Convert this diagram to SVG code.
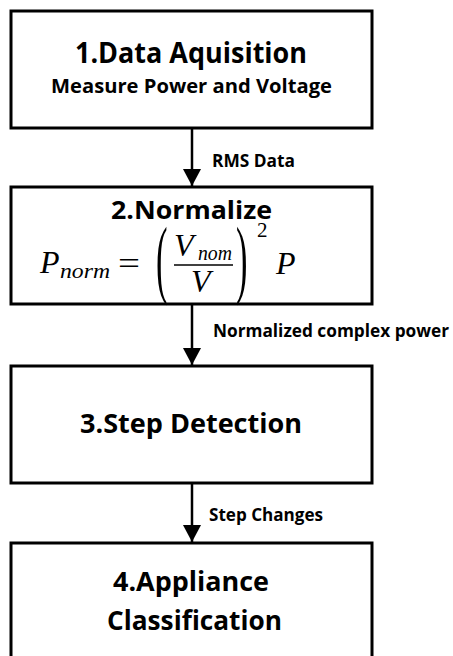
<svg xmlns="http://www.w3.org/2000/svg" width="453" height="656" viewBox="0 0 453 656">
  <style>
    .box { fill: #ffffff; stroke: #000000; stroke-width: 3; }
    .link { fill: none; stroke: #000000; stroke-width: 2.5; }
    .t { font-family: "Open Sans", "Liberation Sans", sans-serif; font-weight: 700; fill: #000000; }
    .m { font-family: "Liberation Serif", "DejaVu Serif", serif; fill: #000000; }
    .mi { font-family: "Liberation Serif", "DejaVu Serif", serif; font-style: italic; fill: #000000; }
  </style>
  <defs>
    <marker id="head" viewBox="0 0 17 18" refX="17" refY="9" markerWidth="17" markerHeight="18" markerUnits="userSpaceOnUse" orient="auto">
      <path d="M0,0 L17,9 L0,18 Z" fill="#000000"/>
    </marker>
  </defs>

  <rect width="453" height="656" fill="#ffffff"/>

  <!-- connectors between the stages -->
  <g id="connectors">
    <line class="link" x1="192" y1="128" x2="192" y2="186" marker-end="url(#head)"/>
    <text class="t" x="212" y="167" font-size="18" textLength="83" lengthAdjust="spacingAndGlyphs">RMS Data</text>
    <line class="link" x1="192" y1="305" x2="192" y2="365" marker-end="url(#head)"/>
    <text class="t" x="213" y="337" font-size="18" textLength="236" lengthAdjust="spacingAndGlyphs">Normalized complex power</text>
    <line class="link" x1="192" y1="484" x2="192" y2="542" marker-end="url(#head)"/>
    <text class="t" x="209" y="521" font-size="18" textLength="114" lengthAdjust="spacingAndGlyphs">Step Changes</text>
  </g>

  <!-- stage 1 -->
  <g id="acquisition">
    <rect class="box" x="11" y="11" width="361" height="117"/>
    <text class="t" x="75" y="63" font-size="28" textLength="232" lengthAdjust="spacingAndGlyphs">1.Data Aquisition</text>
    <text class="t" x="51" y="93" font-size="19" textLength="281" lengthAdjust="spacingAndGlyphs">Measure Power and Voltage</text>
  </g>

  <!-- stage 2 with the normalisation formula -->
  <g id="normalize">
    <rect class="box" x="11" y="187" width="361" height="117"/>
    <text class="t" x="111" y="219" font-size="25" textLength="161" lengthAdjust="spacingAndGlyphs">2.Normalize</text>
    <text class="mi" x="40" y="273" font-size="32">P</text>
    <text class="mi" x="60" y="278" font-size="22" textLength="50" lengthAdjust="spacingAndGlyphs">norm</text>
    <text class="m" x="118" y="274" font-size="32" textLength="22" lengthAdjust="spacingAndGlyphs">=</text>
    <text class="m" transform="translate(156,286.6) scale(1.15,2.89)" font-size="30">(</text>
    <text class="mi" x="174" y="256" font-size="32">V</text>
    <text class="mi" x="198" y="260" font-size="22" textLength="34" lengthAdjust="spacingAndGlyphs">nom</text>
    <line x1="174" y1="265" x2="233" y2="265" stroke="#000000" stroke-width="1.3"/>
    <text class="mi" x="191" y="292" font-size="32">V</text>
    <text class="m" transform="translate(236,286.6) scale(1.15,2.89)" font-size="30">)</text>
    <text class="m" x="257" y="237" font-size="21">2</text>
    <text class="mi" x="276" y="274" font-size="32">P</text>
  </g>

  <!-- stage 3 -->
  <g id="step-detection">
    <rect class="box" x="11" y="366" width="361" height="117"/>
    <text class="t" x="80" y="433" font-size="26" textLength="222" lengthAdjust="spacingAndGlyphs">3.Step Detection</text>
  </g>

  <!-- stage 4 (runs past the lower edge) -->
  <g id="classification">
    <rect class="box" x="11" y="543" width="361" height="130"/>
    <text class="t" x="113" y="591" font-size="26" textLength="156" lengthAdjust="spacingAndGlyphs">4.Appliance</text>
    <text class="t" x="107" y="630" font-size="26" textLength="175" lengthAdjust="spacingAndGlyphs">Classification</text>
  </g>
</svg>
